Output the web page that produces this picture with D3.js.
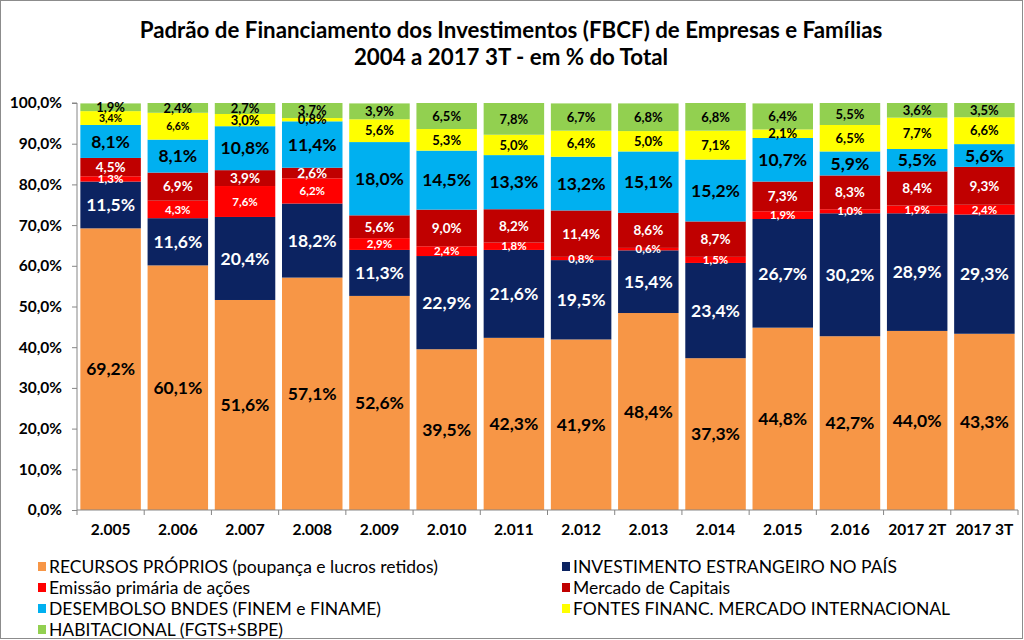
<!DOCTYPE html>
<html><head><meta charset="utf-8">
<script src="https://cdn.jsdelivr.net/npm/d3@7"></script>
<style>body{margin:0;background:#fff;}svg{display:block;font-family:Lato,"Open Sans",sans-serif;}</style>
</head><body><svg id="c" width="1024" height="640"></svg>
<script>
const categories = ["2.005","2.006","2.007","2.008","2.009","2.010","2.011","2.012","2.013","2.014","2.015","2.016","2017 2T","2017 3T"];
const recursosProprios = [69.2,60.1,51.6,57.1,52.6,39.5,42.3,41.9,48.4,37.3,44.8,42.7,44.0,43.3];
const investEstrangeiro = [11.5,11.6,20.4,18.2,11.3,22.9,21.6,19.5,15.4,23.4,26.7,30.2,28.9,29.3];
const emissaoAcoes = [1.3,4.3,7.6,6.2,2.9,2.4,1.8,0.8,0.6,1.5,1.9,1.0,1.9,2.4];
const mercadoCapitais = [4.5,6.9,3.9,2.6,5.6,9.0,8.2,11.4,8.6,8.7,7.3,8.3,8.4,9.3];
const bndes = [8.1,8.1,10.8,11.4,18.0,14.5,13.3,13.2,15.1,15.2,10.7,5.9,5.5,5.6];
const fontesExternas = [3.4,6.6,3.0,0.8,5.6,5.3,5.0,6.4,5.0,7.1,2.1,6.5,7.7,6.6];
const habitacional = [1.9,2.4,2.7,3.7,3.9,6.5,7.8,6.7,6.8,6.8,6.4,5.5,3.6,3.5];
const yTicks = [0,10,20,30,40,50,60,70,80,90,100];
const seriesNames = ["RECURSOS PRÓPRIOS (poupança e lucros retidos)","INVESTIMENTO ESTRANGEIRO NO PAÍS","Emissão primária de ações","Mercado de Capitais","DESEMBOLSO BNDES (FINEM e FINAME)","FONTES FINANC. MERCADO INTERNACIONAL","HABITACIONAL (FGTS+SBPE)"];

const seriesData = [recursosProprios,investEstrangeiro,emissaoAcoes,mercadoCapitais,bndes,fontesExternas,habitacional];
const colors = ["#F79646","#0C2361","#FF0000","#C00000","#00B0F0","#FFFF00","#92D050"];
const labelColors = ["#000","#fff","#fff","#fff","#000","#000","#000"];
const labelSizes = [17.5,17.5,11.5,13.5,17.5,13,13];

const svg = d3.select("#c");
svg.append("rect").attr("x",0.5).attr("y",0.5).attr("width",1022).attr("height",638)
  .attr("fill","#fff").attr("stroke","#8c8c8c");

svg.append("text").attr("x",511).attr("y",38).attr("text-anchor","middle")
  .attr("font-size",22.3).attr("font-weight","bold").text("Padrão de Financiamento dos Investimentos (FBCF) de Empresas e Famílias");
svg.append("text").attr("x",511).attr("y",65).attr("text-anchor","middle")
  .attr("font-size",22.3).attr("font-weight","bold").text("2004 a 2017 3T  - em % do Total");

const x0 = 77, x1 = 1018, yTop = 103, yBot = 510;
const x = d3.scaleBand().domain(categories).range([x0,x1]).paddingInner(0.1).paddingOuter(0.05);
const y = d3.scaleLinear().domain([0,100]).range([yBot,yTop]);

const rows = categories.map((c,i)=>{const o={cat:c}; seriesData.forEach((s,k)=>o["s"+k]=s[i]); return o;});
const keys = seriesData.map((s,k)=>"s"+k);
const stack = d3.stack().keys(keys)(rows);

const g = svg.append("g");
stack.forEach((layer,k)=>{
  g.selectAll(null).data(layer).enter().append("rect")
    .attr("x",d=>x(d.data.cat)).attr("width",x.bandwidth())
    .attr("y",d=>y(Math.min(d[1],100))).attr("height",d=>y(d[0])-y(Math.min(d[1],100)))
    .attr("fill",colors[k]);
});
const fmt = v => v.toFixed(1).replace(".",",")+"%";
stack.forEach((layer,k)=>{
  g.selectAll(null).data(layer).enter().append("text")
    .attr("x",d=>x(d.data.cat)+x.bandwidth()/2)
    .attr("y",d=>(y(d[0])+y(Math.min(d[1],100)))/2)
    .attr("dy","0.36em").attr("text-anchor","middle")
    .attr("font-weight","bold").attr("fill",labelColors[k])
    .attr("font-size",(d,i)=> (k===5 && i<2) ? 10.5 : labelSizes[k])
    .text(d=>fmt(d.data["s"+k]));
});

// y axis
const ya = svg.append("g").attr("transform",`translate(${x0},0)`)
  .call(d3.axisLeft(y).tickValues(yTicks).tickSize(5).tickFormat(v=>v.toFixed(1).replace(".",",")+"%"));
ya.select(".domain").attr("stroke","#868686").attr("d",`M-5,${yTop}H0V${yBot}`);
ya.selectAll(".tick line").attr("stroke","#868686");
ya.selectAll(".tick text").attr("font-size",15.5).attr("font-weight","bold").attr("fill","#000")
  .attr("font-family","Lato,sans-serif").attr("x",-15);

// x axis
const xa = svg.append("g").attr("transform",`translate(0,${yBot})`)
  .call(d3.axisBottom(x).tickSize(0).tickPadding(14));
xa.select(".domain").attr("stroke","#868686").attr("d",`M${x0},0H${x1}`);
xa.selectAll(".tick text").attr("font-size",15.5).attr("font-weight","bold").attr("fill","#000")
  .attr("font-family","Lato,sans-serif");
const bounds = d3.range(categories.length+1).map(i=> x0 + (x1-x0)*i/categories.length);
xa.selectAll(".bt").data(bounds).enter().append("line").attr("class","bt")
  .attr("x1",d=>d).attr("x2",d=>d).attr("y1",0).attr("y2",5).attr("stroke","#868686");

// legend
const legPos = [[38,567],[562,567],[38,588],[562,588],[38,609],[562,609],[38,630]];
const leg = svg.append("g");
seriesNames.forEach((n,k)=>{
  const [lx,ly] = legPos[k];
  leg.append("rect").attr("x",lx).attr("y",ly-5).attr("width",8).attr("height",9).attr("fill",colors[k]);
  leg.append("text").attr("x",lx+11).attr("y",ly).attr("dy","0.35em").attr("font-size",17.5).attr("fill","#000").text(n);
});
</script></body></html>
